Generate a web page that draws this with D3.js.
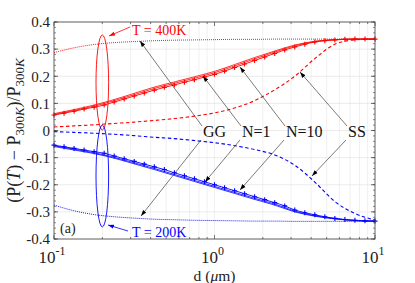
<!DOCTYPE html>
<html>
<head>
<meta charset="utf-8">
<script src="https://cdn.jsdelivr.net/npm/d3@7"></script>
<style>
  body { margin: 0; background: #fff; }
  text { font-family: "Liberation Serif", "Times New Roman", "DejaVu Serif", serif; }
</style>
</head>
<body>
<svg id="chart" width="415" height="283"></svg>
<script>
// d positions (um) of the marked N=10 curves
var dMarked = [0.1, 0.1155, 0.1334, 0.154, 0.1778, 0.2054, 0.2371, 0.2738, 0.3162, 0.3652, 0.4217,
  0.487, 0.5623, 0.6494, 0.7499, 0.866, 1, 1.155, 1.334, 1.54, 1.778, 2.054, 2.371, 2.738,
  3.162, 3.652, 4.217, 4.87, 5.623, 6.494, 7.499, 8.66, 10];
// d positions for the other curves
var dCoarse = [0.1, 0.1334, 0.1778, 0.2371, 0.3162, 0.4217, 0.5623, 0.7499, 1, 1.334, 1.778,
  2.371, 3.162, 4.217, 5.623, 7.499, 10];

// T = 400K
var redN10 = [0.057, 0.064, 0.071, 0.079, 0.086, 0.094, 0.105, 0.116, 0.127, 0.138, 0.149,
  0.159, 0.168, 0.178, 0.187, 0.197, 0.207, 0.219, 0.232, 0.245, 0.258, 0.271, 0.284, 0.297,
  0.308, 0.318, 0.326, 0.331, 0.334, 0.336, 0.337, 0.337, 0.337];
var redN1 = [0.062, 0.077, 0.094, 0.114, 0.137, 0.16, 0.179, 0.198, 0.218, 0.243, 0.269,
  0.293, 0.315, 0.329, 0.335, 0.337, 0.337];
var redMid = [0.059, 0.074, 0.09, 0.11, 0.132, 0.155, 0.174, 0.193, 0.213, 0.238, 0.264,
  0.289, 0.312, 0.328, 0.335, 0.337, 0.337];
var redGG = [0.287, 0.305, 0.317, 0.324, 0.328, 0.331, 0.333, 0.334, 0.335, 0.336, 0.336,
  0.337, 0.337, 0.337, 0.337, 0.337, 0.337];
var redSS = [0.013, 0.017, 0.021, 0.026, 0.031, 0.037, 0.044, 0.053, 0.065, 0.083, 0.11,
  0.15, 0.2, 0.265, 0.318, 0.334, 0.337];

// T = 200K
var blueN10 = [-0.054, -0.06, -0.066, -0.072, -0.078, -0.084, -0.094, -0.104, -0.114, -0.124,
  -0.134, -0.144, -0.156, -0.167, -0.178, -0.189, -0.2, -0.211, -0.222, -0.233, -0.244, -0.255,
  -0.266, -0.278, -0.293, -0.303, -0.311, -0.318, -0.324, -0.328, -0.331, -0.333, -0.334];
var blueN1 = [-0.059, -0.072, -0.085, -0.102, -0.123, -0.144, -0.166, -0.188, -0.21, -0.232,
  -0.254, -0.275, -0.3, -0.316, -0.326, -0.332, -0.334];
var blueMid = [-0.056, -0.069, -0.082, -0.099, -0.119, -0.14, -0.162, -0.184, -0.206, -0.228,
  -0.25, -0.271, -0.297, -0.314, -0.325, -0.332, -0.334];
var blueGG = [-0.275, -0.296, -0.31, -0.318, -0.323, -0.327, -0.329, -0.331, -0.332, -0.333,
  -0.334, -0.334, -0.335, -0.335, -0.335, -0.335, -0.335];
var blueSS = [-0.004, -0.007, -0.01, -0.014, -0.019, -0.025, -0.03, -0.037, -0.045, -0.056,
  -0.07, -0.09, -0.128, -0.19, -0.262, -0.306, -0.33];

var yTicks = [-0.4, -0.3, -0.2, -0.1, 0, 0.1, 0.2, 0.3, 0.4];
var yTickLabels = ["-0.4", "-0.3", "-0.2", "-0.1", "0", "0.1", "0.2", "0.3", "0.4"];
var xTicks = [0.1, 1, 10];
var xTickExp = ["-1", "0", "1"];

var serif = "'Liberation Serif', 'Times New Roman', serif";

var svg = d3.select("#chart"),
    margin = {top: 22, right: 40, bottom: 44, left: 54},
    width = +svg.attr("width") - margin.left - margin.right,
    height = +svg.attr("height") - margin.top - margin.bottom,
    g = svg.append("g").attr("transform", "translate(" + margin.left + "," + margin.top + ")");

var x = d3.scaleLog().domain([0.1, 10]).range([0, width]);
var y = d3.scaleLinear().domain([-0.4, 0.4]).range([height, 0]);

var defs = svg.append("defs");
function arrowHead(id, color) {
  defs.append("marker")
      .attr("id", id)
      .attr("viewBox", "0 0 10 10")
      .attr("refX", 10).attr("refY", 5)
      .attr("markerWidth", 6).attr("markerHeight", 6)
      .attr("markerUnits", "userSpaceOnUse")
      .attr("orient", "auto")
    .append("path")
      .attr("d", "M0,1.5L10,5L0,8.5Z")
      .attr("fill", color);
}
arrowHead("ahk", "#000");
arrowHead("ahr", "#f00");
arrowHead("ahb", "#00f");

// grid
var minorX = [];
[0.1, 1].forEach(function(b) { for (var k = 1; k <= 9; k++) minorX.push(b * k); });
minorX.push(10);
g.append("g").selectAll("line").data(minorX).enter().append("line")
    .attr("x1", function(d) { return x(d); }).attr("x2", function(d) { return x(d); })
    .attr("y1", 0).attr("y2", height)
    .attr("stroke", "#ececec").attr("stroke-width", 0.8);
g.append("g").selectAll("line").data(yTicks).enter().append("line")
    .attr("x1", 0).attr("x2", width)
    .attr("y1", function(d) { return y(d); }).attr("y2", function(d) { return y(d); })
    .attr("stroke", "#e6e6e6").attr("stroke-width", 0.8);

// curves
var line = d3.line()
    .x(function(d) { return x(d[0]); })
    .y(function(d) { return y(d[1]); })
    .curve(d3.curveMonotoneX);

function zip(xs, ys) { return xs.map(function(v, i) { return [v, ys[i]]; }); }

var series = [
  {xs: dCoarse, ys: redGG, c: "#f00", dash: "1,1", w: 0.9},
  {xs: dCoarse, ys: redSS, c: "#f00", dash: "3.5,2.5", w: 1.1},
  {xs: dCoarse, ys: redN1, c: "#f00", dash: null, w: 0.8},
  {xs: dCoarse, ys: redMid, c: "#f00", dash: null, w: 0.8},
  {xs: dMarked, ys: redN10, c: "#f00", dash: null, w: 0.9, mark: true},
  {xs: dCoarse, ys: blueGG, c: "#00f", dash: "1,1", w: 0.9},
  {xs: dCoarse, ys: blueSS, c: "#00f", dash: "3.5,2.5", w: 1.1},
  {xs: dCoarse, ys: blueN1, c: "#00f", dash: null, w: 0.8},
  {xs: dCoarse, ys: blueMid, c: "#00f", dash: null, w: 0.8},
  {xs: dMarked, ys: blueN10, c: "#00f", dash: null, w: 0.9, mark: true}
];

series.forEach(function(s) {
  var pts = zip(s.xs, s.ys);
  g.append("path")
      .datum(pts)
      .attr("fill", "none")
      .attr("stroke", s.c)
      .attr("stroke-width", s.w)
      .attr("stroke-dasharray", s.dash)
      .attr("d", line);
  if (s.mark) {
    g.append("g").selectAll("path").data(pts).enter().append("path")
        .attr("d", function(d) {
          var px = x(d[0]), py = y(d[1]);
          return "M" + (px - 2.5) + "," + py + "H" + (px + 2.5) + "M" + px + "," + (py - 2.5) + "V" + (py + 2.5);
        })
        .attr("stroke", s.c)
        .attr("stroke-width", 1.1);
  }
});

// axes box with inward ticks
var axisColor = "#444";
g.append("rect").attr("width", width).attr("height", height)
    .attr("fill", "none").attr("stroke", axisColor).attr("stroke-width", 0.8);

var yMinor = d3.range(-0.4, 0.401, 0.02);
[0, width].forEach(function(x0, side) {
  var dir = side === 0 ? 1 : -1;
  g.append("g").selectAll("line").data(yMinor).enter().append("line")
      .attr("x1", x0).attr("x2", x0 + dir * 2)
      .attr("y1", function(d) { return y(d); }).attr("y2", function(d) { return y(d); })
      .attr("stroke", axisColor).attr("stroke-width", 0.6);
  g.append("g").selectAll("line").data(yTicks).enter().append("line")
      .attr("x1", x0).attr("x2", x0 + dir * 4)
      .attr("y1", function(d) { return y(d); }).attr("y2", function(d) { return y(d); })
      .attr("stroke", axisColor).attr("stroke-width", 0.8);
});
[height, 0].forEach(function(y0, side) {
  var dir = side === 0 ? -1 : 1;
  g.append("g").selectAll("line").data(minorX).enter().append("line")
      .attr("x1", function(d) { return x(d); }).attr("x2", function(d) { return x(d); })
      .attr("y1", y0).attr("y2", function(d) { return y0 + dir * (xTicks.indexOf(d) >= 0 ? 4 : 2); })
      .attr("stroke", axisColor).attr("stroke-width", 0.7);
});

// tick labels
g.append("g").selectAll("text").data(yTicks).enter().append("text")
    .attr("x", -4)
    .attr("y", function(d) { return y(d); })
    .attr("dy", "0.35em")
    .attr("text-anchor", "end")
    .attr("font-family", serif)
    .attr("font-size", 15)
    .attr("fill", "#222")
    .text(function(d, i) { return yTickLabels[i]; });

var xl = g.append("g").selectAll("text").data(xTicks).enter().append("text")
    .attr("x", function(d) { return x(d) - 2; })
    .attr("y", height + 23.5)
    .attr("text-anchor", "middle")
    .attr("font-family", serif)
    .attr("font-size", 17)
    .attr("fill", "#222");
xl.append("tspan").text("10");
xl.append("tspan").attr("dy", -8).attr("font-size", 12)
    .text(function(d, i) { return xTickExp[i]; });

// axis titles
var xt = g.append("text")
    .attr("x", width / 2).attr("y", height + 42)
    .attr("text-anchor", "middle").attr("font-family", serif).attr("font-size", 15.5).attr("fill", "#222");
xt.append("tspan").text("d (");
xt.append("tspan").attr("font-style", "italic").text("\u03bc");
xt.append("tspan").text("m)");

var yt = svg.append("text")
    .attr("transform", "translate(20," + (margin.top + height / 2) + ") rotate(-90)")
    .attr("text-anchor", "middle").attr("font-family", serif).attr("font-size", 18).attr("fill", "#222");
yt.append("tspan").text("(P(");
yt.append("tspan").attr("font-style", "italic").text("T");
yt.append("tspan").text(") \u2212 P");
yt.append("tspan").attr("dy", 4).attr("font-size", 13).text("300");
yt.append("tspan").attr("font-size", 13).attr("font-style", "italic").text("K");
yt.append("tspan").attr("dy", -4).text(")/P");
yt.append("tspan").attr("dy", 4).attr("font-size", 13).text("300");
yt.append("tspan").attr("font-size", 13).attr("font-style", "italic").text("K");

// ellipses and temperature labels
var ex = x(0.2);
g.append("ellipse").attr("cx", ex).attr("cy", 60.5).attr("rx", 6.3).attr("ry", 47.5)
    .attr("fill", "none").attr("stroke", "#f00").attr("stroke-width", 0.9);
g.append("ellipse").attr("cx", ex).attr("cy", 154).attr("rx", 6.3).attr("ry", 51)
    .attr("fill", "none").attr("stroke", "#00f").attr("stroke-width", 0.9);

g.append("line").attr("x1", 76).attr("y1", 5).attr("x2", 55).attr("y2", 14)
    .attr("stroke", "#f00").attr("stroke-width", 0.8).attr("marker-end", "url(#ahr)");
g.append("text").attr("x", 78).attr("y", 13).attr("font-family", serif).attr("font-size", 14).attr("fill", "#f00")
    .text("T = 400K");
g.append("line").attr("x1", 74).attr("y1", 209).attr("x2", 54).attr("y2", 203)
    .attr("stroke", "#00f").attr("stroke-width", 0.8).attr("marker-end", "url(#ahb)");
g.append("text").attr("x", 78).attr("y", 215).attr("font-family", serif).attr("font-size", 14).attr("fill", "#00f")
    .text("T = 200K");

g.append("text").attr("x", 6).attr("y", 211).attr("font-family", serif).attr("font-size", 14).attr("fill", "#222").text("(a)");

// curve labels and pointers
var labels = [
  {t: "GG", lx: 149, up: [86, 19], dn: [87, 194]},
  {t: "N=1", lx: 188, up: [149, 54], dn: [151, 160]},
  {t: "N=10", lx: 232, up: [186, 45], dn: [186, 168]},
  {t: "SS", lx: 294, up: [246, 50], dn: [258, 154]}
];
var ly = 115;
labels.forEach(function(l) {
  g.append("text").attr("x", l.lx).attr("y", ly).attr("font-family", serif).attr("font-size", 16).attr("fill", "#111").text(l.t);
  g.append("line").attr("x1", l.lx - 1).attr("y1", ly - 11).attr("x2", l.up[0]).attr("y2", l.up[1])
      .attr("stroke", "#222").attr("stroke-width", 0.6).attr("marker-end", "url(#ahk)");
  g.append("line").attr("x1", l.lx - 2).attr("y1", ly + 3).attr("x2", l.dn[0]).attr("y2", l.dn[1])
      .attr("stroke", "#222").attr("stroke-width", 0.6).attr("marker-end", "url(#ahk)");
});
</script>
</body>
</html>
